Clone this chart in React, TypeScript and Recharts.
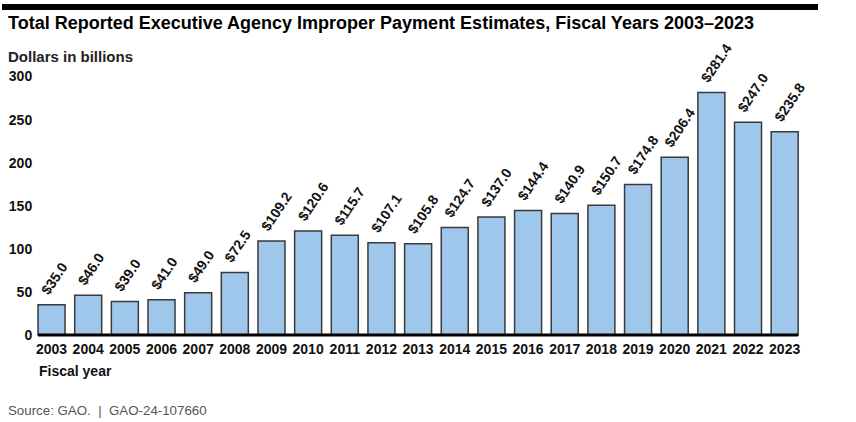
import React from 'react';
import { BarChart, Bar, XAxis, YAxis, LabelList } from 'recharts';

const years = [
  '2003', '2004', '2005', '2006', '2007', '2008', '2009', '2010', '2011', '2012', '2013',
  '2014', '2015', '2016', '2017', '2018', '2019', '2020', '2021', '2022', '2023',
];
const estimates = [
  35.0, 46.0, 39.0, 41.0, 49.0, 72.5, 109.2, 120.6, 115.7, 107.1, 105.8,
  124.7, 137.0, 144.4, 140.9, 150.7, 174.8, 206.4, 281.4, 247.0, 235.8,
];
const yTicks = [0, 50, 100, 150, 200, 250, 300];

const data = years.map((year, i) => ({ year, amount: estimates[i] }));

const FONT = '"Liberation Sans", Arial, Helvetica, sans-serif';

const renderLabel = (props: any) => {
  const { x, y, width, value } = props;
  const tx = Number(x) + Number(width) / 2 - 3;
  const ty = Number(y) - 9;
  return (
    <text
      x={tx}
      y={ty}
      transform={`rotate(-56 ${tx} ${ty})`}
      textAnchor="start"
      fontSize={14}
      fontWeight={700}
      fontFamily={FONT}
      fill="#111"
    >
      {`$${Number(value).toFixed(1)}`}
    </text>
  );
};

const App: React.FC = () => {
  return (
    <div style={{ position: 'absolute', left: 0, top: 0, width: 856, height: 422, fontFamily: FONT, background: '#fff' }}>
      <div style={{ position: 'absolute', left: 2, top: 4, width: 816, height: 6, background: '#000' }} />
      <div style={{ position: 'absolute', left: 8, top: 14, fontSize: 18, lineHeight: 1, fontWeight: 700, color: '#000', whiteSpace: 'nowrap' }}>
        Total Reported Executive Agency Improper Payment Estimates, Fiscal Years 2003–2023
      </div>
      <div style={{ position: 'absolute', left: 8, top: 49, fontSize: 15, lineHeight: 1, fontWeight: 700, color: '#222' }}>
        Dollars in billions
      </div>
      <BarChart
        width={856}
        height={422}
        data={data}
        margin={{ top: 76.5, right: 53, left: 0, bottom: 57 }}
        barCategoryGap="13.2%"
      >
        <XAxis
          dataKey="year"
          height={30}
          tickLine={false}
          tickSize={6}
          tickMargin={3}
          interval={0}
          axisLine={{ stroke: '#000', strokeWidth: 3, strokeDasharray: '0 4.8 760 40' }}
          tick={{ fontSize: 14, fontWeight: 700, fill: '#111', fontFamily: FONT }}
        />
        <YAxis
          width={33.2}
          domain={[0, 300]}
          ticks={yTicks}
          axisLine={false}
          tickLine={false}
          tickSize={0}
          tickMargin={1}
          tick={{ fontSize: 14, fontWeight: 700, fill: '#111', fontFamily: FONT }}
        />
        <Bar dataKey="amount" fill="#9fc7eb" stroke="#3a3a3a" strokeWidth={1.5} isAnimationActive={false}>
          <LabelList dataKey="amount" content={renderLabel} />
        </Bar>
      </BarChart>
      <div style={{ position: 'absolute', left: 39, top: 364, fontSize: 14, lineHeight: 1, fontWeight: 700, color: '#111' }}>
        Fiscal year
      </div>
      <div style={{ position: 'absolute', left: 8, top: 404, fontSize: 13.3, lineHeight: 1, color: '#555', whiteSpace: 'pre' }}>
        {'Source: GAO.  |  GAO-24-107660'}
      </div>
    </div>
  );
};

export default App;
